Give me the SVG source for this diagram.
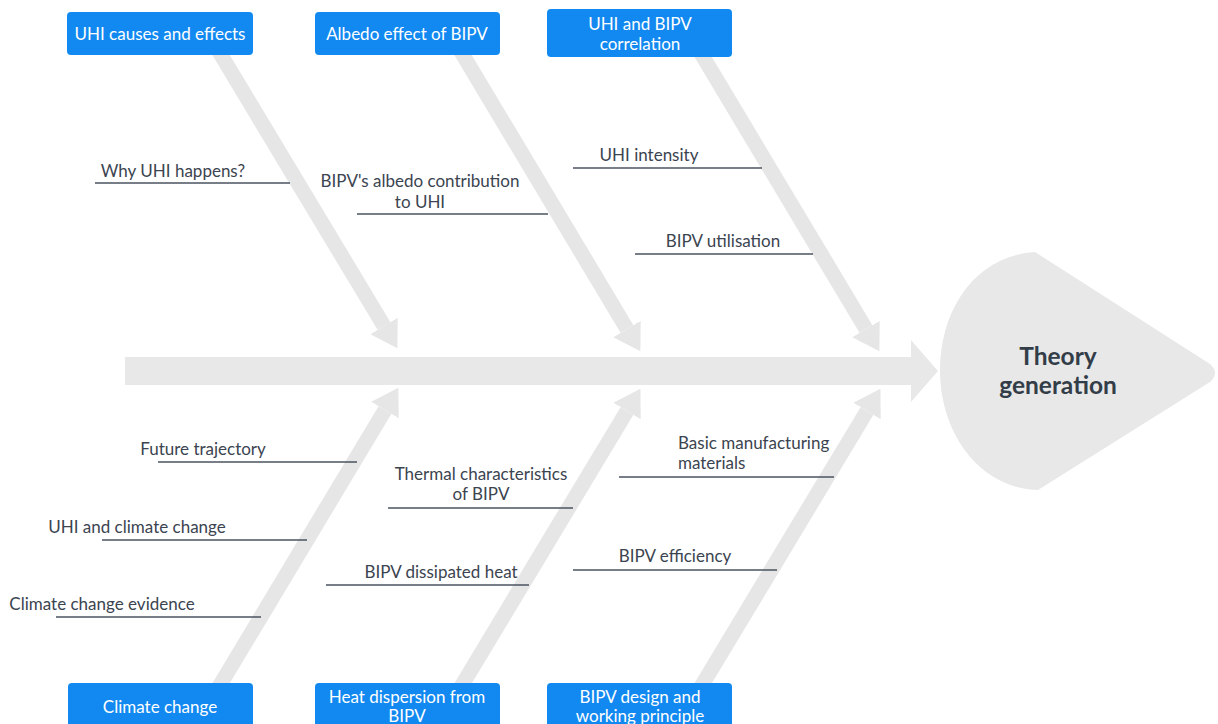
<svg xmlns="http://www.w3.org/2000/svg" width="1218" height="724" viewBox="0 0 1218 724">
<defs>
<style>
.rib{stroke:#e6e6e6;stroke-width:15;fill:none}
.box{fill:#1289f0}
.bt{font-family:Lato,"Liberation Sans",sans-serif;font-size:17px;fill:#ffffff;text-anchor:middle}
.lt{font-family:Lato,"Liberation Sans",sans-serif;font-size:17px;fill:#3b4450;text-anchor:middle}
.ul{stroke:#4a5360;stroke-width:1.5}
.ht{font-family:Lato,"Liberation Sans",sans-serif;font-size:24.5px;font-weight:bold;fill:#333d48;text-anchor:middle}
</style>
<marker id="ah" markerUnits="userSpaceOnUse" markerWidth="30" markerHeight="36" refX="0" refY="16" orient="auto" viewBox="0 0 30 36">
<path d="M0,0 L26,16 L0,32 Z" fill="#e6e6e6"/>
</marker>
</defs>
<rect width="1218" height="724" fill="#ffffff"/>

<g id="connectors">
<line class="rib" x1="215" y1="45" x2="384" y2="326" marker-end="url(#ah)"/>
<line class="rib" x1="457" y1="45" x2="627" y2="329" marker-end="url(#ah)"/>
<line class="rib" x1="696" y1="45" x2="866" y2="329" marker-end="url(#ah)"/>
<line class="rib" x1="208" y1="705" x2="385" y2="410" marker-end="url(#ah)"/>
<line class="rib" x1="450" y1="705" x2="627" y2="411" marker-end="url(#ah)"/>
<line class="rib" x1="690" y1="705" x2="867" y2="411" marker-end="url(#ah)"/>
</g>

<g id="spine">
<path d="M125,357 L911,357 L911,340 L938,371 L911,402 L911,385 L125,385 Z" fill="#e8e8e8"/>
</g>

<g id="head">
<path d="M1035,252 C975,256 940,310 940,370 C940,432 978,488 1038,490 L1210,382 Q1220,373 1210,364 Z" fill="#e8e8e8"/>
<text class="ht" x="1058" y="365">Theory</text>
<text class="ht" x="1058" y="394">generation</text>
</g>

<g id="n-uhi-causes">
<rect class="box" x="67" y="12" width="186" height="43" rx="4"/>
<text class="bt" x="160" y="40">UHI causes and effects</text>
</g>
<g id="n-albedo">
<rect class="box" x="315" y="12" width="185" height="43" rx="4"/>
<text class="bt" x="407" y="40">Albedo effect of BIPV</text>
</g>
<g id="n-correlation">
<rect class="box" x="547" y="9" width="185" height="48" rx="4"/>
<text class="bt" x="640" y="30">UHI and BIPV</text>
<text class="bt" x="640" y="50">correlation</text>
</g>
<g id="n-climate">
<rect class="box" x="68" y="683" width="185" height="50" rx="4"/>
<text class="bt" x="160" y="713">Climate change</text>
</g>
<g id="n-heat">
<rect class="box" x="315" y="683" width="185" height="50" rx="4"/>
<text class="bt" x="407" y="703">Heat dispersion from</text>
<text class="bt" x="407" y="722">BIPV</text>
</g>
<g id="n-design">
<rect class="box" x="547" y="683" width="185" height="50" rx="4"/>
<text class="bt" x="640" y="703">BIPV design and</text>
<text class="bt" x="640" y="722">working principle</text>
</g>

<g id="l-why">
<text class="lt" x="173" y="177">Why UHI happens?</text>
<line class="ul" x1="95" y1="183" x2="290" y2="183"/>
</g>
<g id="l-albedo-contrib">
<text class="lt" x="420" y="187">BIPV's albedo contribution</text>
<text class="lt" x="420" y="208">to UHI</text>
<line class="ul" x1="357" y1="214" x2="548" y2="214"/>
</g>
<g id="l-intensity">
<text class="lt" x="649" y="161">UHI intensity</text>
<line class="ul" x1="573" y1="168" x2="762" y2="168"/>
</g>
<g id="l-utilisation">
<text class="lt" x="723" y="247">BIPV utilisation</text>
<line class="ul" x1="635" y1="254" x2="813" y2="254"/>
</g>
<g id="l-future">
<text class="lt" x="203" y="455">Future trajectory</text>
<line class="ul" x1="158" y1="462" x2="357" y2="462"/>
</g>
<g id="l-uhi-climate">
<text class="lt" x="137" y="533">UHI and climate change</text>
<line class="ul" x1="102" y1="540" x2="307" y2="540"/>
</g>
<g id="l-evidence">
<text class="lt" x="102" y="610">Climate change evidence</text>
<line class="ul" x1="56" y1="617" x2="261" y2="617"/>
</g>
<g id="l-thermal">
<text class="lt" x="481" y="480">Thermal characteristics</text>
<text class="lt" x="481" y="500">of BIPV</text>
<line class="ul" x1="388" y1="508" x2="573" y2="508"/>
</g>
<g id="l-dissipated">
<text class="lt" x="441" y="578">BIPV dissipated heat</text>
<line class="ul" x1="326" y1="585" x2="529" y2="585"/>
</g>
<g id="l-materials">
<text class="lt" x="678" y="449" style="text-anchor:start">Basic manufacturing</text>
<text class="lt" x="678" y="469" style="text-anchor:start">materials</text>
<line class="ul" x1="619" y1="477" x2="834" y2="477"/>
</g>
<g id="l-efficiency">
<text class="lt" x="675" y="562">BIPV efficiency</text>
<line class="ul" x1="573" y1="570" x2="777" y2="570"/>
</g>
</svg>
